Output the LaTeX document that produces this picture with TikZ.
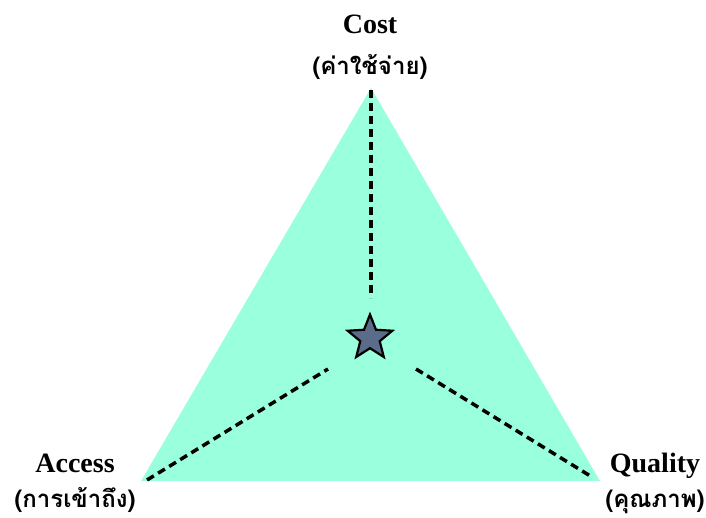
\documentclass[tikz,border=0pt]{standalone}
\usepackage{fontspec}
\setmainfont{Liberation Serif}
\newfontfamily\thaifont[Script=Thai]{Loma}
\usetikzlibrary{shapes.geometric}
\definecolor{mint}{HTML}{99FFDC}
\definecolor{starblue}{HTML}{5B6B8A}
\tikzset{
  dashline/.style={line width=3.5pt, dash pattern=on 8pt off 5pt},
  enlabel/.style={font=\bfseries\fontsize{28}{30}\selectfont, inner sep=0pt, anchor=base},
  thlabel/.style={font=\thaifont\bfseries\fontsize{24}{26}\selectfont, inner sep=0pt, anchor=base},
}
\begin{document}
\begin{tikzpicture}[x=1pt,y=1pt]
\useasboundingbox (0,0) rectangle (706,517);
\coordinate (top) at (371,429);
\coordinate (bl) at (141,36);
\coordinate (br) at (600,36);
\fill[mint] (top) -- (bl) -- (br) -- cycle;
\node[star, star points=5, star point ratio=2.3, minimum size=47pt, inner sep=0pt,
      fill=starblue, draw=black, line width=2.2pt] (star) at (370,179) {};
\coordinate (tEnd) at (371,219);
\coordinate (lEnd) at (328,148);
\coordinate (rEnd) at (416,148);
\coordinate (tV) at (371,427);
\coordinate (lV) at (147,37);
\coordinate (rV) at (592,40);
\draw[dashline] (tV) -- (tEnd);
\draw[dashline] (lV) -- (lEnd);
\draw[dashline] (rEnd) -- (rV);
\node[enlabel] (cost) at (370,483) {Cost};
\node[thlabel] (costth) at (370,442) {(ค่าใช้จ่าย)};
\node[enlabel] (access) at (75,45) {Access};
\node[thlabel] (accessth) at (75,10) {(การเข้าถึง)};
\node[enlabel] (quality) at (655,45) {Quality};
\node[thlabel] (qualityth) at (655,10) {(คุณภาพ)};
\end{tikzpicture}
\end{document}
